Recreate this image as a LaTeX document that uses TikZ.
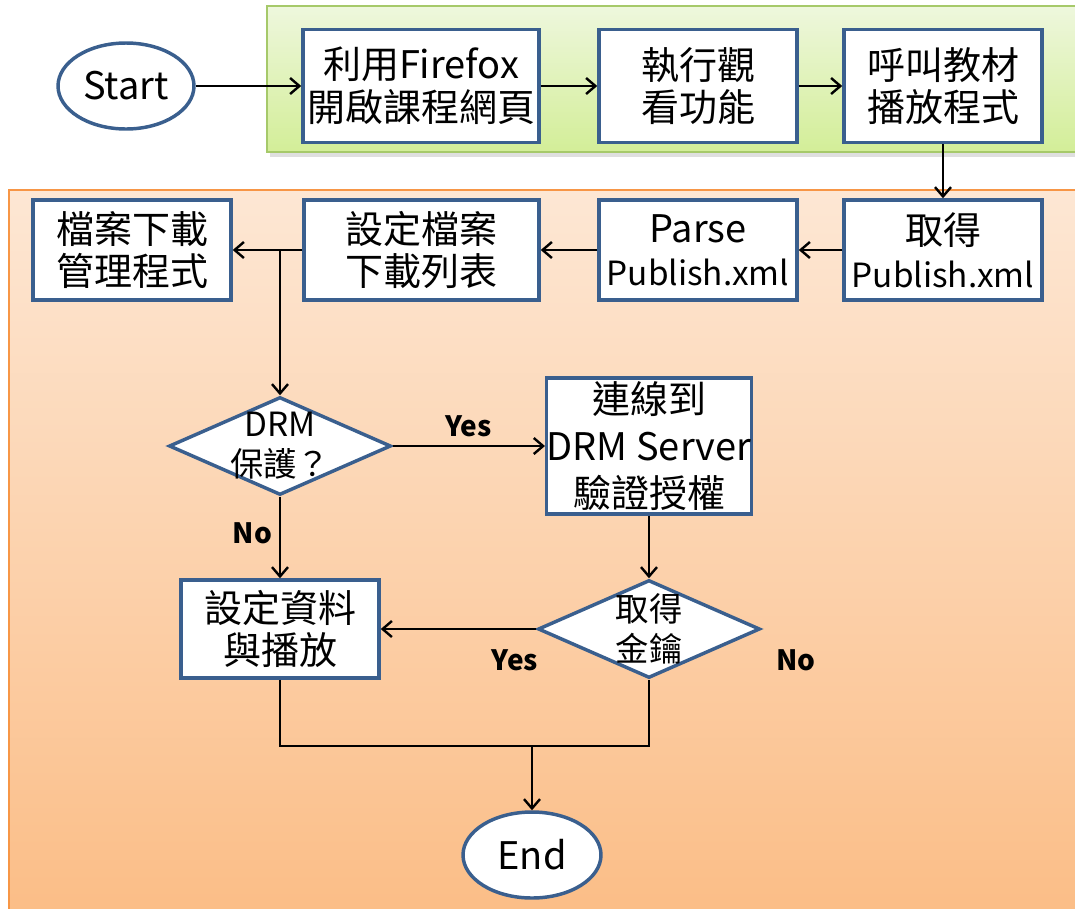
\documentclass[tikz,border=0pt]{standalone}
\usepackage{fontspec}
\setmainfont{Noto Sans CJK TC}
\usetikzlibrary{shapes.geometric,arrows.meta}
\definecolor{boxblue}{HTML}{3A5F8E}
\definecolor{greenedge}{HTML}{A6C96A}
\definecolor{greentop}{HTML}{EEF7DD}
\definecolor{greenbot}{HTML}{D3EE98}
\definecolor{orangeedge}{HTML}{F79646}
\definecolor{orangetop}{HTML}{FDE7D4}
\definecolor{orangebot}{HTML}{FBBD86}
\newcommand{\xmlname}{{\fontsize{25}{32}\selectfont Publish.xml}}
\begin{document}
\begin{tikzpicture}[x=0.75pt,y=-0.75pt,
  stepbox/.style={draw=boxblue, line width=2.6pt, fill=white, inner sep=0pt,
    align=center, font=\fontsize{28.5}{32}\selectfont},
  termnode/.style={ellipse, draw=boxblue, line width=2.6pt, fill=white, inner sep=0pt,
    font=\fontsize{28.5}{32}\selectfont},
  decide/.style={diamond, draw=boxblue, line width=2.6pt, fill=white, inner sep=0pt,
    minimum width=166.5pt, minimum height=73.5pt},
  dtext/.style={align=center, inner sep=0pt, font=\fontsize{25}{30}\selectfont},
  ans/.style={inner sep=0pt, font=\fontsize{21}{24}\selectfont\bfseries},
  arr/.style={line width=1.8pt, -{Straight Barb[length=7pt,width=12pt]}},
  wire/.style={line width=1.8pt}
]
\useasboundingbox (0,0) rectangle (1075,908);
\begin{scope}
\clip (0,0) rectangle (1075,908);
% background panels
\fill[black!25, opacity=0.5] (270,10) rectangle (1090,157);
\shade[top color=greentop, bottom color=greenbot, draw=greenedge, line width=1.2pt]
  (267,6) rectangle (1090,152);
\shade[top color=orangetop, bottom color=orangebot, draw=orangeedge, line width=1.2pt]
  (9,190) rectangle (1090,920);
\end{scope}

% terminals
\node[termnode, minimum width=102pt, minimum height=64.5pt] (start) at (126,86) {Start};
\node[termnode, minimum width=103.5pt, minimum height=64.5pt] (end) at (532,855) {End};

% first row
\node[stepbox, minimum width=177pt, minimum height=84.75pt] (open) at (421,86) {利用Firefox\\開啟課程網頁};
\node[stepbox, minimum width=148.5pt, minimum height=84.75pt] (view) at (698,86) {執行觀\\看功能};
\node[stepbox, minimum width=148.5pt, minimum height=84.75pt] (call) at (943,86) {呼叫教材\\播放程式};

% second row
\node[stepbox, minimum width=148.5pt, minimum height=75pt] (mgr) at (132,250) {檔案下載\\管理程式};
\node[stepbox, minimum width=176.25pt, minimum height=75pt] (list) at (421.5,250) {設定檔案\\下載列表};
\node[stepbox, minimum width=148.5pt, minimum height=75pt] (parse) at (698,250) {Parse\\\xmlname};
\node[stepbox, minimum width=148.5pt, minimum height=75pt] (get) at (943,250) {取得\\\xmlname};

% DRM branch
\node[decide, label={[dtext]center:{DRM\\保護？}}] (drm) at (280,446) {};
\node[stepbox, minimum width=148.5pt, minimum height=102pt,
  font=\fontsize{28.5}{35}\selectfont] (conn) at (649,446) {連線到\\DRM Server\\驗證授權};
\node[stepbox, minimum width=148.5pt, minimum height=73.5pt] (play) at (280,629) {設定資料\\與播放};
\node[decide, label={[dtext]center:{取得\\金鑰}}] (key) at (649,629) {};

\coordinate (bus) at (532,746);

% connectors
\draw[arr] (start) -- (open);
\draw[arr] (open) -- (view);
\draw[arr] (view) -- (call);
\draw[arr] (call) -- (get);
\draw[arr] (get) -- (parse);
\draw[arr] (parse) -- (list);
\draw[arr] (list) -- (mgr);
\draw[arr] (drm.north |- list.west) -- (drm.north);
\draw[arr] (drm.east) -- node[ans, above=6pt] (yes1) {Yes} (conn.west);
\draw[arr] (drm.south) -- node[ans, left=5pt, pos=0.45] (no1) {No} (play.north);
\draw[arr] (conn.south) -- (key.north);
\draw[arr] (key.west) -- (play.east);
\node[ans] (yes2) at (515,660) {Yes};
\node[ans] (no2) at (796,660) {No};
\draw[wire] (play.south) -- (play.south |- bus) -| (key.south);
\draw[arr] (bus) -- (end.north);
\end{tikzpicture}
\end{document}
